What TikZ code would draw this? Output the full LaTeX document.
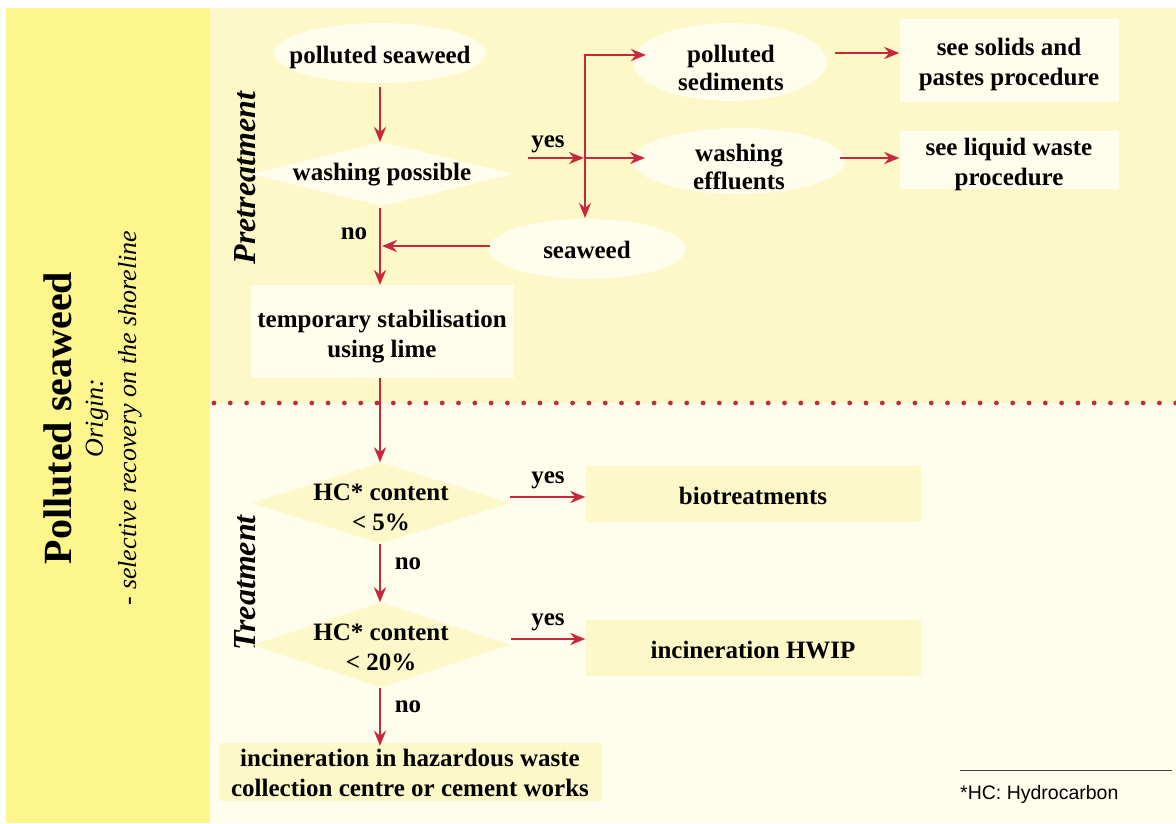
\documentclass[tikz,border=0pt]{standalone}
\usepackage{fontspec}
\setmainfont{Liberation Serif}
\setsansfont{Liberation Sans}
\usetikzlibrary{shapes.geometric,arrows.meta}
\definecolor{band}{HTML}{FCF68C}
\definecolor{upbg}{HTML}{FDF8C8}
\definecolor{lobg}{HTML}{FFFDEB}
\definecolor{arrred}{HTML}{C8283C}
\tikzset{
  txt/.style={font=\fontsize{25}{30}\selectfont\bfseries, align=center, text=black},
  txtell/.style={font=\fontsize{25}{28}\selectfont\bfseries, align=center, text=black, inner sep=0pt},
  ellnode/.style={ellipse, fill=lobg, inner sep=0pt},
  boxup/.style={rectangle, fill=lobg, inner sep=0pt},
  boxlo/.style={rectangle, fill=upbg, inner sep=0pt},
  dianode/.style={diamond, inner sep=0pt},
  arr/.style={draw=arrred, line width=2.8pt, -{Stealth[length=15pt,width=12pt]}},
  plainred/.style={draw=arrred, line width=2.8pt},
  lab/.style={txt, inner sep=0pt},
  side/.style={rotate=90, inner sep=0pt, text=black},
}
\begin{document}
\begin{tikzpicture}[x=1pt,y=-1pt]
\useasboundingbox (0,0) rectangle (1176,823);
\fill[white] (0,0) rectangle (1176,823);
\fill[band] (6,8) rectangle (210,823);
\fill[upbg] (210,8) rectangle (1176,403);
\fill[lobg] (210,403) rectangle (1176,823);
\draw[arrred, line width=4.8pt, line cap=round, dash pattern=on 0pt off 16.3pt] (214,403) -- (1176,403);

% left band
\node[side, font=\fontsize{40}{44}\selectfont\bfseries] (title) at (58,418) {Polluted seaweed};
\node[side, font=\fontsize{26}{30}\selectfont\itshape] (orig) at (97,418) {Origin:};
\node[side, font=\fontsize{26}{30}\selectfont\itshape] (sel) at (130,418) {- selective recovery on the shoreline};

% section labels
\node[side, font=\fontsize{32}{36}\selectfont\bfseries\itshape] (pre) at (245,178) {Pretreatment};
\node[side, font=\fontsize{32}{36}\selectfont\bfseries\itshape] (trt) at (245,583) {Treatment};

% upper shapes
\node[ellnode, minimum width=212pt, minimum height=60pt] (ps) at (380,53) {};
\node[dianode, fill=lobg, minimum width=264pt, minimum height=64pt] (wp) at (382,174) {};
\node[ellnode, minimum width=197pt, minimum height=60pt] (sw) at (587,249) {};
\node[boxup, minimum width=263pt, minimum height=93pt] (tmp) at (382,331) {};
\node[ellnode, minimum width=194pt, minimum height=78pt] (psed) at (730,62) {};
\node[ellnode, minimum width=212pt, minimum height=66pt] (wef) at (739,161) {};
\node[boxup, minimum width=219pt, minimum height=83pt] (sol) at (1009,60) {};
\node[boxup, minimum width=219pt, minimum height=58pt] (liq) at (1009,160) {};
% upper texts
\node[lab] (pst) at (380,57) {polluted seaweed};
\node[lab] (wpt) at (382,175) {washing possible};
\node[lab] (swt) at (587,250) {seaweed};
\node[lab] (tmpt) at (382,337) {temporary stabilisation\\using lime};
\node[txtell] (psedt) at (731,67.5) {polluted\\sediments};
\node[txtell] (weft) at (739,166.5) {washing\\effluents};
\node[lab] (solt) at (1009,64) {see solids and\\pastes procedure};
\node[lab] (liqt) at (1009,164.5) {see liquid waste\\procedure};

% lower shapes
\node[dianode, fill=upbg, minimum width=258pt, minimum height=81pt] (hc1) at (381,503) {};
\node[boxlo, minimum width=335pt, minimum height=56pt] (bio) at (753,494) {};
\node[dianode, fill=upbg, minimum width=257pt, minimum height=85pt] (hc2) at (381,645) {};
\node[boxlo, minimum width=335pt, minimum height=56pt] (hwip) at (753,648) {};
\node[boxlo, minimum width=383pt, minimum height=58pt] (bot) at (410,772) {};
% lower texts
\node[lab] (hc1t) at (381,507.5) {HC* content\\< 5\%};
\node[lab] (biot) at (753,495.5) {biotreatments};
\node[lab] (hc2t) at (381,647.5) {HC* content\\< 20\%};
\node[lab] (hwipt) at (753,650.5) {incineration HWIP};
\node[lab] (bott) at (410,772.5) {incineration in hazardous waste\\collection centre or cement works};

% labels
\node[lab] (yes1) at (548,144) {yes};
\node[lab] (no1) at (354,234) {no};
\node[lab] (yes2) at (548,480) {yes};
\node[lab] (no2) at (408,564) {no};
\node[lab] (yes3) at (548,622) {yes};
\node[lab] (no3) at (408,707) {no};

% coordinates
\coordinate (c1) at (380,87);
\coordinate (c2) at (380,142);
\coordinate (c3) at (380,208);
\coordinate (c4) at (380,285);
\coordinate (ys) at (528,158);
\coordinate (jm) at (585,158);
\coordinate (jt) at (585,55);
\coordinate (jb) at (585,218);
\coordinate (pin) at (646,55);
\coordinate (win) at (645,158);
\coordinate (a1) at (835,53);
\coordinate (a2) at (840,158);
\coordinate (swl) at (490,246);
\coordinate (nj) at (382,246);

% upper connectors
\draw[arr] (c1) -- (c2);
\draw[arr] (c3) -- (c4);
\draw[arr] (ys) -- ([xshift=-1pt]jm);
\draw[arr] (jt) -- (jb);
\draw[plainred] (jt) -- ([xshift=-1.4pt]jt);
\draw[arr] ([xshift=-1.4pt]jt) -- (pin);
\draw[arr] (jm) -- (win);
\draw[arr] (a1) -- (a1 -| sol.west);
\draw[arr] (a2) -- (a2 -| liq.west);
\draw[arr] (swl) -- (nj);

% lower connectors
\draw[arr] (tmp.south -| c1) -- (hc1.north -| c1);
\draw[arr] (hc1.south -| c1) -- (hc2.north -| c1);
\draw[arr] (hc2.south -| c1) -- ([yshift=-3pt]bot.north -| c1);
\coordinate (y2) at (510,497);
\coordinate (y3) at (511,639);
\draw[arr] (y2) -- (y2 -| bio.west);
\draw[arr] (y3) -- (y3 -| hwip.west);

% footnote
\coordinate (f1) at (960,770);
\coordinate (f2) at (1172,770);
\draw[black!75, line width=1pt] (f1) -- (f2);
\node[anchor=west, inner sep=0pt, font=\sffamily\fontsize{19.5}{22}\selectfont, text=black] (fn) at (960,794) {*HC: Hydrocarbon};
\end{tikzpicture}
\end{document}
